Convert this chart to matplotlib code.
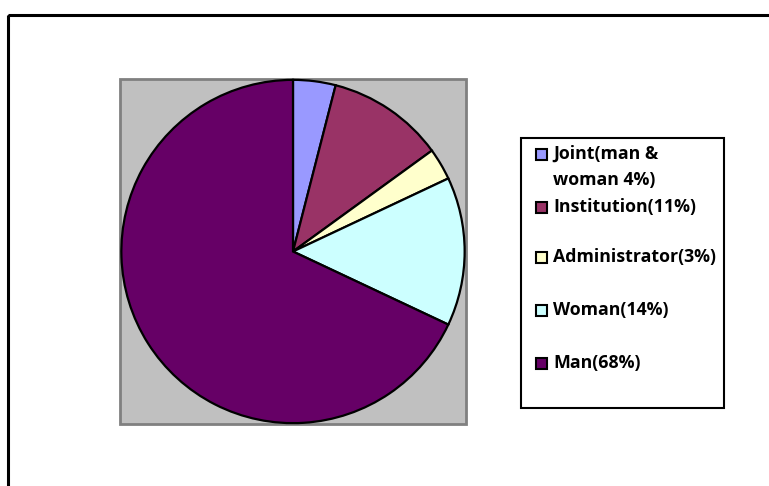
import matplotlib
matplotlib.use('Agg')
import matplotlib.pyplot as plt
from matplotlib.patches import Rectangle

categories = ["Joint(man &\nwoman 4%)", "Institution(11%)", "Administrator(3%)", "Woman(14%)", "Man(68%)"]
values = [4, 11, 3, 14, 68]
colors = ["#9999FF", "#993366", "#FFFFCC", "#CCFFFF", "#660066"]

# layout (pixels)
W, H = 769, 486
legend_rows_y = [154, 207, 257, 310, 363]
line_step = 26

fig = plt.figure(figsize=(W / 100, H / 100), dpi=100)
overlay = fig.add_axes([0, 0, 1, 1])
overlay.set_xlim(0, W)
overlay.set_ylim(H, 0)
overlay.axis('off')

# outer chart frame (extends past right/bottom edges)
overlay.add_patch(Rectangle((8, 15), 900, 600, fill=False, ec='black', lw=2.2))
# plot area
overlay.add_patch(Rectangle((120, 79), 346, 345, fc='#C0C0C0', ec='#808080', lw=2))

ax = fig.add_axes([120 / W, 1 - 424 / H, 346 / W, 345 / H])
ax.patch.set_alpha(0)
ax.pie(values, colors=colors, startangle=90, counterclock=False, radius=1,
       wedgeprops=dict(edgecolor='black', linewidth=1.6))
ax.set_xlim(-1.005, 1.005)
ax.set_ylim(-1.005, 1.005)
ax.set_aspect('equal')

# legend
overlay.add_patch(Rectangle((521, 138), 203, 270, fc='white', ec='black', lw=1.5, zorder=3))
for lab, col, y in zip(categories, colors, legend_rows_y):
    overlay.add_patch(Rectangle((536, y - 5.5), 11, 11, fc=col, ec='black', lw=1.5, zorder=4))
    for i, line in enumerate(lab.split("\n")):
        overlay.text(553, y + i * line_step, line, fontsize=12.8, fontweight='bold',
                     family='Open Sans', va='center', ha='left', zorder=5, color='black')

fig.savefig('out.png', dpi=100)
